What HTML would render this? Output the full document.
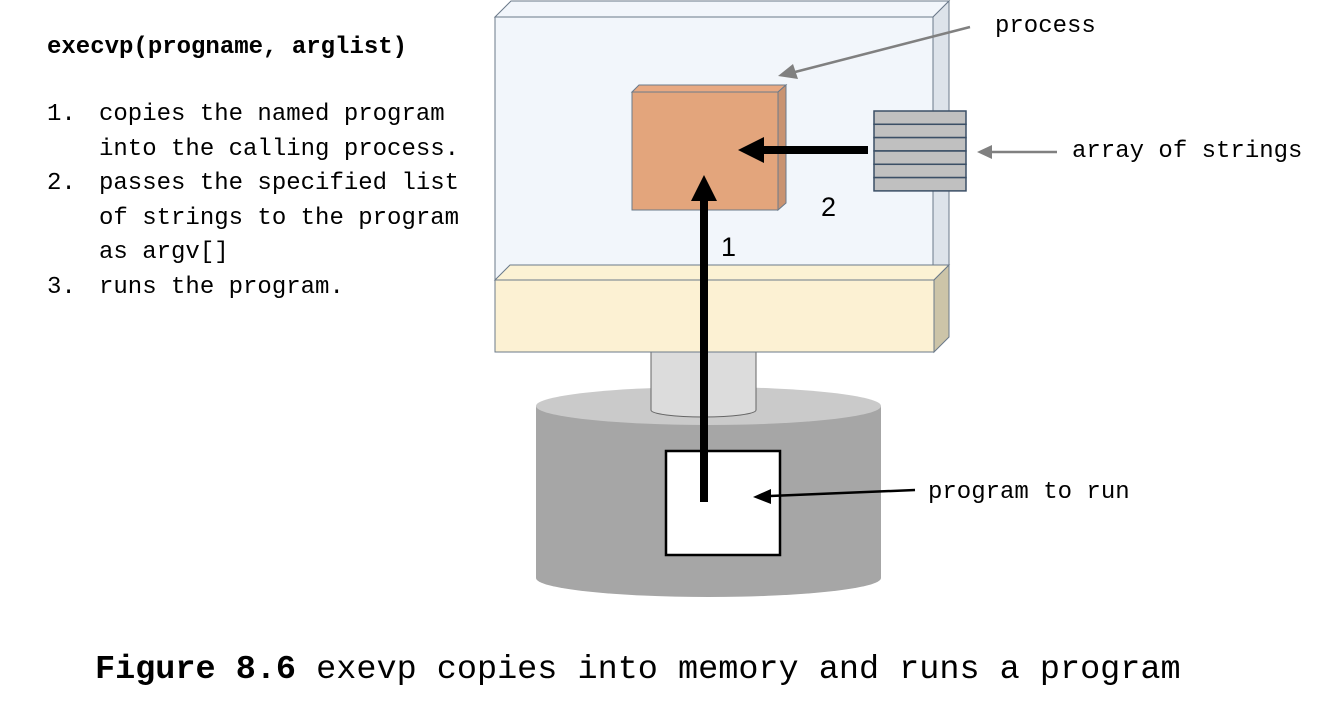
<!DOCTYPE html>
<html><head><meta charset="utf-8"><style>
html,body{margin:0;padding:0;background:#fff;}
body{width:1322px;height:712px;overflow:hidden;}
</style></head><body>
<svg width="1322" height="712" xmlns="http://www.w3.org/2000/svg" style="font-family:'Liberation Mono',monospace">
<!-- base cylinder -->
<path d="M536,406 L536,578 A172.5,19 0 0 0 881,578 L881,406 Z" fill="#a6a6a6"/>
<ellipse cx="708.5" cy="406" rx="172.5" ry="19" fill="#cacaca"/>
<!-- neck -->
<path d="M651,350 L651,410 A52.5,7 0 0 0 756,410 L756,350 Z" fill="#dcdcdc" stroke="#666" stroke-width="1"/>
<!-- big box -->
<polygon points="495,17 511,1 949,1 933,17" fill="#f2f6fb" stroke="#6b7a8a" stroke-width="1"/>
<polygon points="933,17 949,1 949,265 933,280" fill="#dde3ea" stroke="#6b7a8a" stroke-width="1"/>
<rect x="495" y="17" width="438" height="263" fill="#f2f6fb" stroke="#6b7a8a" stroke-width="1"/>
<!-- yellow -->
<polygon points="495,280 510,265 949,265 934,280" fill="#fcf2d4" stroke="#6b7a8a" stroke-width="1"/>
<polygon points="934,280 949,265 949,337 934,352" fill="#ccc4a8" stroke="#6b7a8a" stroke-width="1"/>
<rect x="495" y="280" width="439" height="72" fill="#fcf1d3" stroke="#6b7a8a" stroke-width="1"/>
<!-- orange -->
<polygon points="632,92 639,85 786,85 778,92" fill="#e8a982" stroke="#6b7a8a" stroke-width="1"/>
<polygon points="778,92 786,85 786,203 778,210" fill="#c99371" stroke="#6b7a8a" stroke-width="1"/>
<rect x="632" y="92" width="146" height="118" fill="#e3a57c" stroke="#6b7a8a" stroke-width="1"/>
<!-- strings -->
<g fill="#c0c0c0" stroke="#3b4f66" stroke-width="1.5">
<rect x="874" y="111" width="92" height="13.3"/><rect x="874" y="124.3" width="92" height="13.3"/>
<rect x="874" y="137.6" width="92" height="13.3"/><rect x="874" y="151" width="92" height="13.3"/>
<rect x="874" y="164.3" width="92" height="13.3"/><rect x="874" y="177.6" width="92" height="13.3"/>
</g>
<!-- white program box -->
<rect x="666" y="451" width="114" height="104" fill="#fff" stroke="#000" stroke-width="2.5"/>
<!-- arrow 1 -->
<rect x="700" y="198" width="8" height="304" fill="#000"/>
<polygon points="704,175 691,201 717,201" fill="#000"/>
<!-- arrow 2 -->
<rect x="760" y="146" width="108" height="8" fill="#000"/>
<polygon points="738,150 764,137 764,163" fill="#000"/>
<!-- program to run arrow -->
<line x1="915" y1="490" x2="770" y2="496" stroke="#000" stroke-width="2.5"/>
<polygon points="753,497 771,489 771,504" fill="#000"/>
<!-- gray arrows -->
<line x1="970" y1="27" x2="795" y2="72" stroke="#808080" stroke-width="2.5"/>
<polygon points="778,76 793,64 798,79" fill="#808080"/>
<line x1="1057" y1="152" x2="990" y2="152" stroke="#808080" stroke-width="2.5"/>
<polygon points="977,152 992,145 992,159" fill="#808080"/>
<!-- numbers -->
<text x="721" y="256" font-family="Liberation Sans,sans-serif" font-size="27">1</text>
<text x="821" y="216" font-family="Liberation Sans,sans-serif" font-size="27">2</text>
<!-- labels -->
<g font-size="24" fill="#000">
<text x="995" y="32">process</text>
<text x="1072" y="157">array of strings</text>
<text x="928" y="498">program to run</text>
<text x="47" y="53" font-weight="bold">execvp(progname, arglist)</text>
<text x="47" y="120">1.</text><text x="99" y="120">copies the named program</text>
<text x="99" y="155">into the calling process.</text>
<text x="47" y="189">2.</text><text x="99" y="189">passes the specified list</text>
<text x="99" y="224">of strings to the program</text>
<text x="99" y="258">as argv[]</text>
<text x="47" y="293">3.</text><text x="99" y="293">runs the program.</text>
</g>
<text x="95" y="678" font-size="33.5"><tspan font-weight="bold">Figure 8.6</tspan> exevp copies into memory and runs a program</text>
</svg>
</body></html>
